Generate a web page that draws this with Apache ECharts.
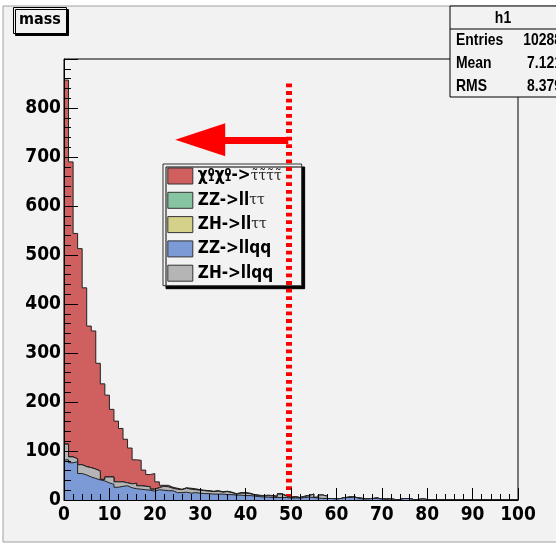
<!DOCTYPE html>
<html>
<head>
<meta charset="utf-8">
<script src="https://cdn.jsdelivr.net/npm/echarts@6/dist/echarts.min.js"></script>
<style>html,body{margin:0;padding:0;background:#fff;}#c{width:556px;height:550px;}</style>
</head>
<body>
<div id="c"></div>
<script>
// ---- data (bin width 1, bins 0..99 on the "mass" axis) ----
const binStart = 0;
const binWidth = 1;
const xTicks = [0,10,20,30,40,50,60,70,80,90,100];
const yTicks = [0,100,200,300,400,500,600,700,800];
const seriesNames = ['χ⁰₁χ⁰₁->τ̃τ̃τ̃τ̃', 'ZZ->llττ', 'ZH->llττ', 'ZZ->llqq', 'ZH->llqq'];
// χ01χ01 -> stau stau
const chiChi = [743,602,460,441,365,289,282,220,195,167,138,124,109,89,73,48,52,33,25,32,
                12,2,3,2,2,1,1,2,2,1,1,1,1,1,1,1,1,1,1,1,
                1,1,1,1,1,1,1,1,1,1,1,0,1,0,0,1,0,0,0,0,
                0,0,0,0,0,0,0,0,0,0,0,0,0,0,0,0,0,0,0,0,
                0,0,0,0,0,0,0,0,0,0,0,0,0,0,0,0,0,0,0,0];
const zzTauTau = new Array(100).fill(0);
const zhTauTau = new Array(100).fill(0);
const zzQQ = [82,76,78,54,51,47,44,41,39,35,32,26,28,29,25,23,22,21,20,18,
              21,20,19,19,15,15,16,14,15,14,13,13,12,12,12,11,11,10,10,9,
              9,8,7,6,6,5,5,5,5,4,4,4,5,6,5,4,3,3,3,2,
              3,5,5,6,3,2,2,3,3,2,1,2,1,1,3,3,1,1,2,1,
              1,0,1,1,0,1,0,1,0,0,1,0,0,1,0,0,1,0,0,0];
const zhQQ = [32,12,6,18,17,19,19,18,3,12,15,11,9,6,8,11,7,7,7,4,
              4,8,8,5,7,6,8,8,6,6,6,5,5,6,4,6,4,2,4,5,
              4,2,2,2,3,3,2,7,3,1,2,1,2,3,7,1,7,5,0,1,
              0,0,1,0,1,1,0,0,1,0,1,0,0,0,0,0,0,0,0,0,
              0,0,0,0,0,0,0,0,0,0,0,0,0,0,0,0,0,0,0,0];
const cutValue = 49.4;      // dotted cut line
const cutTop = 850;
const arrowY = 735;
const arrowTipCenter = 30;
const statsTitle = 'h1';
const statsLabels = ['Entries', 'Mean', 'RMS'];
const statsValues = ['10288', '7.121', '8.379'];

// ---- styling ----
const FONT = "'DejaVu Sans Condensed', 'DejaVu Sans', sans-serif";
const colors = {
  'χ⁰₁χ⁰₁->τ̃τ̃τ̃τ̃': '#d06060',
  'ZZ->llττ': '#86c4a2',
  'ZH->llττ': '#d5d08a',
  'ZZ->llqq': '#7b9ad6',
  'ZH->llqq': '#b5b5b5'
};

// stacking order: bottom first (THStack-like cumulative drawing)
const stackOrder = [
  ['ZZ->llqq', zzQQ],
  ['ZH->llqq', zhQQ],
  ['ZH->llττ', zhTauTau],
  ['ZZ->llττ', zzTauTau],
  ['χ⁰₁χ⁰₁->τ̃τ̃τ̃τ̃', chiChi]
];
const cumulative = [];
let running = new Array(100).fill(0);
stackOrder.forEach(([name, arr]) => {
  running = running.map((v, i) => v + arr[i]);
  cumulative.push([name, running.slice()]);
});

function stepData(arr) {
  const d = arr.map((v, i) => [binStart + i * binWidth, v]);
  d.push([binStart + arr.length * binWidth, arr[arr.length - 1]]);
  return d;
}

// draw the largest cumulative first, so each lower component sits on top
const series = cumulative.slice().reverse().map(([name, arr], i) => ({
  name: name,
  type: 'line',
  step: 'end',
  data: stepData(arr),
  showSymbol: false,
  symbol: 'none',
  silent: true,
  z: 2 + i,
  lineStyle: { color: '#222', width: 1 },
  itemStyle: { color: colors[name], borderColor: '#333', borderWidth: 1 },
  areaStyle: { color: colors[name], opacity: 1, origin: 'start' }
}));

series.push({
  name: 'cut',
  type: 'line',
  data: [],
  silent: true,
  z: 9,
  markLine: {
    silent: true,
    animation: false,
    symbol: ['none', 'none'],
    label: { show: false },
    data: [
      [
        { coord: [cutValue, cutTop], lineStyle: { color: '#ff0000', width: 6, type: [3.8, 3.8], opacity: 1 } },
        { coord: [cutValue, 0] }
      ],
      [
        { coord: [cutValue, arrowY], symbol: 'none', lineStyle: { color: '#ff0000', width: 7, type: 'solid', opacity: 1 } },
        { coord: [arrowTipCenter, arrowY], symbol: 'triangle', symbolSize: [33, 50], itemStyle: { color: '#ff0000' } }
      ]
    ]
  }
});

const labelFont = { fontFamily: FONT, fontWeight: 'bold', fontSize: 19, color: '#000' };
const SFONT = "bold 17px 'Liberation Sans', Arial, sans-serif";

function scaledText(x, y, text, align) {
  return {
    type: 'group', x: x, y: y, scaleX: 0.82, z: 21,
    children: [{ type: 'text', x: 0, y: 0, style: { text: text, fill: '#000', font: SFONT, textAlign: align, textVerticalAlign: 'middle' }, z: 21 }]
  };
}

const statsGraphics = [
  { type: 'rect', shape: { x: 450, y: 6, width: 112, height: 91 }, style: { fill: '#f2f2f2', stroke: '#000', lineWidth: 1 }, z: 20 },
  { type: 'line', shape: { x1: 450, y1: 29, x2: 562, y2: 29 }, style: { stroke: '#000', lineWidth: 1 }, z: 21 },
  scaledText(503, 18, statsTitle, 'center')
];
statsLabels.forEach((lab, i) => {
  const y = 40 + i * 23;
  statsGraphics.push(scaledText(456, y, lab, 'left'));
  statsGraphics.push(scaledText(562, y, statsValues[i], 'right'));
});

const chart = echarts.init(document.getElementById('c'), null, { renderer: 'canvas' });
chart.setOption({
  animation: false,
  backgroundColor: '#ffffff',
  title: {
    text: 'mass',
    left: 13, top: 7,
    padding: [3, 6, 4, 6],
    backgroundColor: '#f2f2f2',
    borderColor: '#000', borderWidth: 1,
    shadowColor: '#000', shadowBlur: 0, shadowOffsetX: 2, shadowOffsetY: 2,
    textStyle: { fontFamily: FONT, fontWeight: 'bold', fontSize: 16, lineHeight: 20, color: '#000' }
  },
  graphic: [
    { type: 'rect', shape: { x: 3, y: 6, width: 560, height: 536 }, style: { fill: '#f2f2f2', stroke: '#a0a0a0', lineWidth: 1 }, z: -100, silent: true }
  ].concat(statsGraphics),
  legend: {
    orient: 'vertical',
    left: 163, top: 164,
    padding: [3.5, 20, 4, 4.3],
    itemWidth: 25, itemHeight: 16, itemGap: 7.3,
    icon: 'rect',
    backgroundColor: '#f2f2f2',
    borderColor: '#333', borderWidth: 1,
    shadowColor: '#000', shadowBlur: 0, shadowOffsetX: 3, shadowOffsetY: 3,
    itemStyle: { borderColor: '#333', borderWidth: 1 },
    data: seriesNames,
    selectedMode: false,
    formatter: function (name) {
      if (name === seriesNames[0]) {
        return '{c|χ}{p|0}{b|1}{c|χ}{p|0}{b|1}{c|->}{t|τ̃τ̃τ̃τ̃}';
      }
      const m = name.match(/^(.*->ll)(ττ)$/);
      if (m) return '{c|' + m[1] + '}{t|' + m[2] + '}';
      return '{c|' + name + '}';
    },
    textStyle: {
      fontFamily: FONT, fontWeight: 'bold', fontSize: 17, color: '#000',
      rich: {
        c: { fontFamily: FONT, fontWeight: 'bold', fontSize: 17, lineHeight: 16, color: '#000' },
        p: { fontFamily: FONT, fontWeight: 'bold', fontSize: 11, lineHeight: 16, verticalAlign: 'top', width: 0.1, color: '#000' },
        b: { fontFamily: FONT, fontWeight: 'bold', fontSize: 11, lineHeight: 16, verticalAlign: 'bottom', color: '#000' },
        t: { fontFamily: "'DejaVu Serif', serif", fontWeight: 'normal', fontSize: 14, lineHeight: 16, color: '#222' }
      }
    }
  },
  grid: {
    left: 64, right: 38, top: 59, bottom: 50,
    show: true,
    backgroundColor: '#f2f2f2',
    borderColor: '#000', borderWidth: 1
  },
  xAxis: {
    type: 'value',
    min: xTicks[0], max: xTicks[xTicks.length - 1], interval: xTicks[1] - xTicks[0],
    z: 10,
    axisLine: { show: true, onZero: false, lineStyle: { color: '#000', width: 1 } },
    axisTick: { show: true, inside: true, length: 12, lineStyle: { color: '#000' } },
    minorTick: { show: true, splitNumber: 5, length: 6, lineStyle: { color: '#000' } },
    splitLine: { show: false },
    axisLabel: Object.assign({ margin: 6 }, labelFont)
  },
  yAxis: {
    type: 'value',
    min: yTicks[0], max: 900, interval: yTicks[1] - yTicks[0],
    z: 10,
    axisLine: { show: true, lineStyle: { color: '#000', width: 1 } },
    axisTick: { show: true, inside: true, length: 14, lineStyle: { color: '#000' } },
    minorTick: { show: true, splitNumber: 5, length: 7, lineStyle: { color: '#000' } },
    splitLine: { show: false },
    axisLabel: Object.assign({ margin: 3, showMaxLabel: false }, labelFont)
  },
  series: series
});
</script>
</body>
</html>
